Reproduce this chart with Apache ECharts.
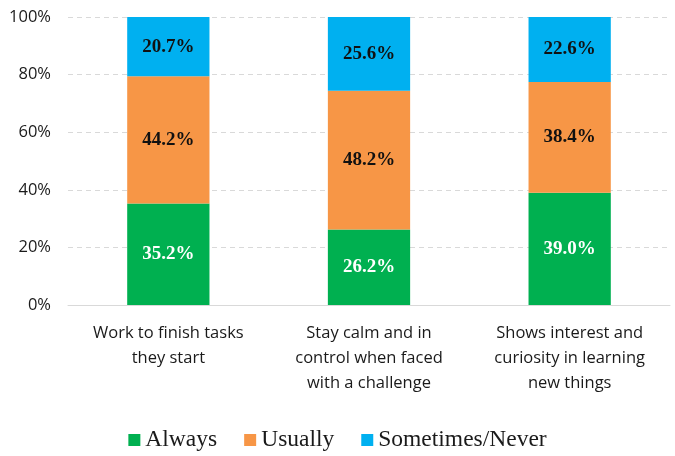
<!DOCTYPE html>
<html>
<head>
<meta charset="utf-8">
<script src="https://cdn.jsdelivr.net/npm/echarts@6/dist/echarts.min.js"></script>
<style>
  html, body { margin: 0; padding: 0; background: #fff; }
  #chart { width: 675px; height: 456px; }
</style>
</head>
<body>
<div id="chart"></div>
<script>
// Share of responses per behaviour (percent)
const categories = [
  'Work to finish tasks\nthey start',
  'Stay calm and in\ncontrol when faced\nwith a challenge',
  'Shows interest and\ncuriosity in learning\nnew things'
];
const always = [35.2, 26.2, 39.0];
const usually = [44.2, 48.2, 38.4];
const sometimesNever = [20.7, 25.6, 22.6];
const yTicks = [0, 20, 40, 60, 80, 100];

const serif = '"Liberation Serif", "Times New Roman", serif';
const sans = '"Open Sans", "Liberation Sans", sans-serif';

function stackSeries(name, values, color, labelColor) {
  return {
    name: name,
    type: 'bar',
    stack: 'total',
    data: values,
    barWidth: '41%',
    itemStyle: { color: color },
    label: {
      show: true,
      position: 'inside',
      formatter: p => p.value.toFixed(1) + '%',
      color: labelColor,
      fontFamily: serif,
      fontWeight: 'bold',
      fontSize: 19
    }
  };
}

const chart = echarts.init(document.getElementById('chart'), null, { renderer: 'canvas' });
chart.setOption({
  animation: false,
  grid: { left: 68, right: 5, top: 17, bottom: 151 },
  xAxis: {
    type: 'category',
    data: categories,
    axisLine: { lineStyle: { color: '#d9d9d9' } },
    axisTick: { show: false },
    axisLabel: {
      color: '#1a1a1a',
      fontFamily: sans,
      fontSize: 16.5,
      lineHeight: 25,
      margin: 16,
      interval: 0
    }
  },
  yAxis: {
    type: 'value',
    min: yTicks[0],
    max: yTicks[yTicks.length - 1],
    interval: yTicks[1] - yTicks[0],
    axisLine: { show: false },
    axisTick: { show: false },
    axisLabel: {
      formatter: v => v + '%',
      color: '#1a1a1a',
      fontFamily: sans,
      fontSize: 16.5,
      margin: 17
    },
    splitLine: { lineStyle: { color: '#d9d9d9', type: [5, 4] } }
  },
  legend: {
    bottom: -1,
    left: 'center',
    itemWidth: 12,
    itemHeight: 12,
    itemGap: 27,
    icon: 'rect',
    textStyle: { fontFamily: serif, fontSize: 23.5, color: '#1a1a1a' },
    data: ['Always', 'Usually', 'Sometimes/Never']
  },
  series: [
    stackSeries('Always', always, '#00b050', '#ffffff'),
    stackSeries('Usually', usually, '#f79646', '#111111'),
    stackSeries('Sometimes/Never', sometimesNever, '#00b0f0', '#111111')
  ]
});
</script>
</body>
</html>
